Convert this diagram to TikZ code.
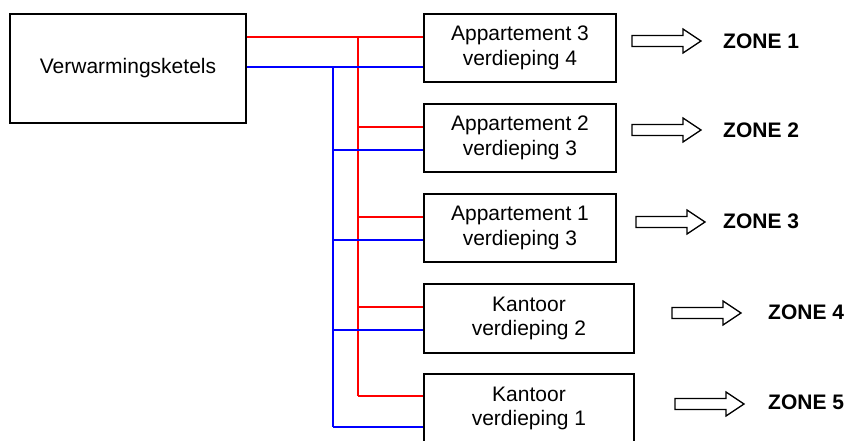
\documentclass[tikz,border=0pt]{standalone}
\usepackage{fontspec}
\setmainfont{Liberation Sans}
\begin{document}
\begin{tikzpicture}[x=1pt,y=-1pt,
  box/.style={draw=black,line width=1.3pt,inner sep=0pt,align=center,
    font=\fontsize{21}{24.5}\selectfont},
  zone/.style={anchor=west,inner sep=0pt,font=\fontsize{21}{24}\selectfont\bfseries},
  hot/.style={draw=red,line width=1.3pt},
  cold/.style={draw=blue,line width=1.3pt},
  zarrow/.pic={\draw[line width=1.3pt,fill=white] (0,-5.5) -- (51,-5.5) -- (51,-12) -- (69,0) -- (51,12) -- (51,5.5) -- (0,5.5) -- cycle;}
]
\useasboundingbox (0,0) rectangle (848,440);

\node[box,minimum width=236pt,minimum height=109pt] (boiler) at (128,68.5) {Verwarmingsketels};
\node[box,minimum width=192pt,minimum height=68pt] (b1) at (520,48) {Appartement 3\\verdieping 4};
\node[box,minimum width=192pt,minimum height=68pt] (b2) at (520,138) {Appartement 2\\verdieping 3};
\node[box,minimum width=192pt,minimum height=68pt] (b3) at (520,228) {Appartement 1\\verdieping 3};
\node[box,minimum width=210pt,minimum height=69pt] (b4) at (529,318.5) {Kantoor\\verdieping 2};
\node[box,minimum width=210pt,minimum height=69pt] (b5) at (529,408.5) {Kantoor\\verdieping 1};

% trunks
\coordinate (rtop) at (358,37);
\coordinate (rbot) at (358,396);
\coordinate (btop) at (333,67);
\coordinate (bbot) at (333,427);

% supply (red)
\draw[hot] (boiler.east |- rtop) -- (b1.west |- rtop);
\draw[hot] (rtop) -- (rbot);
\draw[hot] (358,127) -- (b2.west |- {0,127});
\draw[hot] (358,217) -- (b3.west |- {0,217});
\draw[hot] (358,307) -- (b4.west |- {0,307});
\draw[hot] (rbot) -- (b5.west |- rbot);

% return (blue)
\draw[cold] (boiler.east |- btop) -- (b1.west |- btop);
\draw[cold] (btop) -- (bbot);
\draw[cold] (333,150) -- (b2.west |- {0,150});
\draw[cold] (333,240) -- (b3.west |- {0,240});
\draw[cold] (333,330) -- (b4.west |- {0,330});
\draw[cold] (bbot) -- (b5.west |- bbot);

% block arrows
\pic at (632,41) {zarrow};
\pic at (632,130) {zarrow};
\pic at (636,222) {zarrow};
\pic at (672,313) {zarrow};
\pic at (675,404) {zarrow};

\node[zone] (z1) at (723,41) {ZONE 1};
\node[zone] (z2) at (723,130.5) {ZONE 2};
\node[zone] (z3) at (723,221) {ZONE 3};
\node[zone] (z4) at (768,312) {ZONE 4};
\node[zone] (z5) at (768,402) {ZONE 5};
\end{tikzpicture}
\end{document}
